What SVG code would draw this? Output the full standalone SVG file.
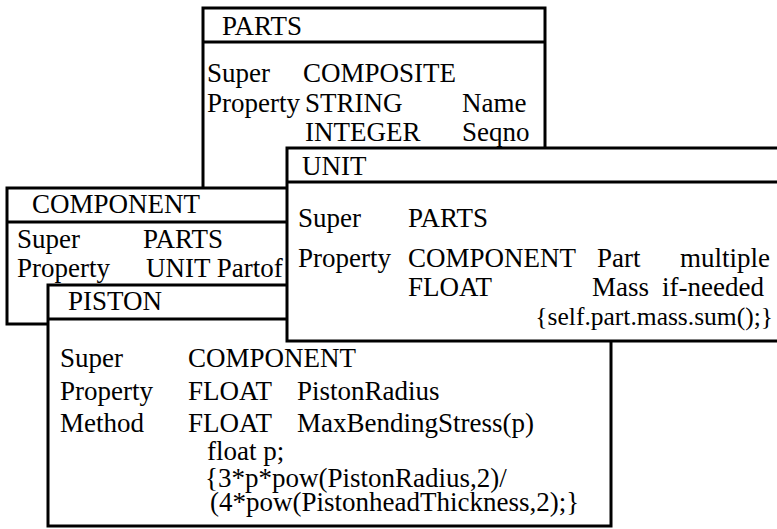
<svg xmlns="http://www.w3.org/2000/svg" width="777" height="529" viewBox="0 0 777 529">
<style>
.box{fill:#fff;stroke:#000;stroke-width:3}
.hl{stroke:#000;stroke-width:3}
text{font-family:"Liberation Serif","Times New Roman",serif;font-size:27px;fill:#000}
.code{font-size:25.5px}
</style>
<rect width="777" height="529" fill="#fff"/>
<g id="parts">
<rect class="box" x="203" y="8" width="342" height="192"/>
<line class="hl" x1="203" y1="42" x2="545" y2="42"/>
<text x="222" y="35">PARTS</text>
<text x="207" y="82">Super</text><text x="303" y="82">COMPOSITE</text>
<text x="207" y="112">Property</text><text x="305" y="112">STRING</text><text x="462" y="112">Name</text>
<text x="305" y="141">INTEGER</text><text x="462" y="141">Seqno</text>
</g>
<g id="component">
<rect class="box" x="7" y="188" width="290" height="136"/>
<line class="hl" x1="7" y1="222" x2="297" y2="222"/>
<text x="32" y="213">COMPONENT</text>
<text x="17" y="248">Super</text><text x="143" y="248">PARTS</text>
<text x="17" y="277">Property</text><text x="146" y="277">UNIT Partof</text>
</g>
<g id="piston">
<rect class="box" x="48" y="285" width="563" height="241"/>
<line class="hl" x1="48" y1="319" x2="611" y2="319"/>
<text x="68" y="310">PISTON</text>
<text x="60" y="367">Super</text><text x="188" y="367">COMPONENT</text>
<text x="60" y="400">Property</text><text x="188" y="400">FLOAT</text><text x="297" y="400">PistonRadius</text>
<text x="60" y="432">Method</text><text x="188" y="432">FLOAT</text><text x="297" y="432">MaxBendingStress(p)</text>
<text x="207" y="460">float p;</text>
<text x="205" y="487">{3*p*pow(PistonRadius,2)/</text>
<text x="210" y="511">(4*pow(PistonheadThickness,2);}</text>
</g>
<g id="unit">
<rect class="box" x="287" y="148" width="510" height="193"/>
<line class="hl" x1="287" y1="182" x2="797" y2="182"/>
<text x="302" y="175">UNIT</text>
<text x="298" y="227">Super</text><text x="408" y="227">PARTS</text>
<text x="298" y="267">Property</text><text x="408" y="267">COMPONENT</text><text x="597" y="267">Part</text><text x="770" y="267" text-anchor="end">multiple</text>
<text x="408" y="296">FLOAT</text><text x="592" y="296">Mass</text><text x="764" y="296" text-anchor="end">if-needed</text>
<text class="code" x="773" y="325" text-anchor="end">{self.part.mass.sum();}</text>
</g>
<g id="connectors"/>
</svg>
